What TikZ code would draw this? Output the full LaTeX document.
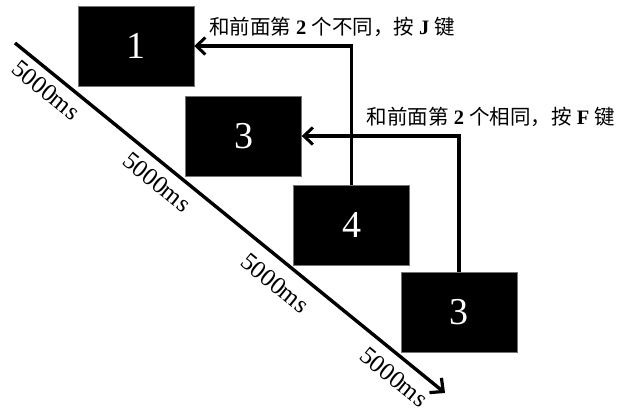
\documentclass[tikz,border=0pt]{standalone}
\usepackage{fontspec}
\setmainfont{Liberation Serif}
\newfontfamily\cjk{Noto Sans CJK SC}
\usetikzlibrary{arrows.meta}
\begin{document}
\begin{tikzpicture}[x=1pt,y=-1pt,
  stim/.style={fill=black,draw=black!55,line width=0.4pt,minimum width=116pt,minimum height=80pt,inner sep=0pt,text=white,font=\fontsize{38}{42}\selectfont},
  conn/.style={line width=3.2pt,-{Straight Barb[length=9pt,width=17pt,line width=3pt]}},
  timeline/.style={line width=3.4pt,-{Straight Barb[length=10pt,width=19pt,line width=3.2pt]}},
  dur/.style={rotate=-39.1,font=\fontsize{25}{28}\selectfont,inner sep=0pt},
  rule/.style={font=\fontsize{20.5}{24}\selectfont,inner sep=0pt}]
\useasboundingbox (0,0) rectangle (617,413);
\node[stim] (b1) at (136,46) {1};
\node[stim] (b2) at (243.5,136) {3};
\node[stim] (b3) at (351.5,225) {4};
\node[stim] (b4) at (459,312) {3};
\coordinate (ts) at (15,43);
\coordinate (te) at (445,393);
\draw[timeline] (ts) -- (te);
\draw[conn] (b3.north) |- (b1.east);
\draw[conn] (b4.north) |- (b2.east);
\node[rule] (r1) at (332,27) {{\cjk 和前面第} \textbf{2} {\cjk 个不同，按} \textbf{J} {\cjk 键}};
\node[rule] (r2) at (491,117) {{\cjk 和前面第} \textbf{2} {\cjk 个相同，按} \textbf{F} {\cjk 键}};
\node[dur] (d1) at (46,90) {5000ms};
\node[dur] (d2) at (157,182) {5000ms};
\node[dur] (d3) at (275,283) {5000ms};
\node[dur] (d4) at (394,377) {5000ms};
\end{tikzpicture}
\end{document}
